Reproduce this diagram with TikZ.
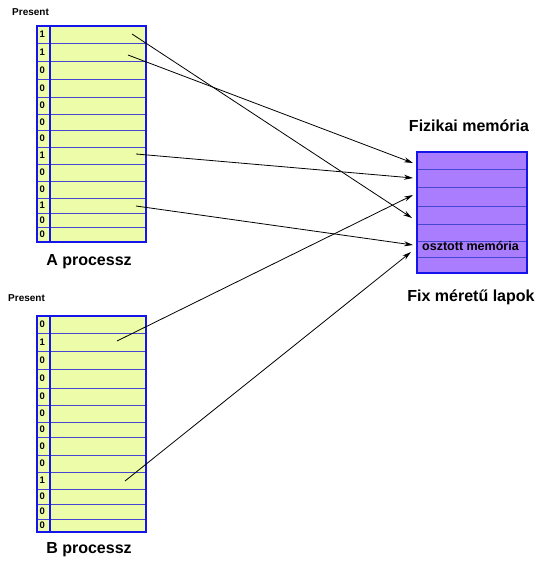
\documentclass[tikz,border=0pt]{standalone}
\usepackage{fontspec}
\setmainfont{Liberation Sans}
\usetikzlibrary{arrows.meta}
\definecolor{cellyellow}{RGB}{236,252,168}
\definecolor{mempurple}{RGB}{170,125,255}
\definecolor{tblblue}{RGB}{20,20,235}
\definecolor{rowblue}{RGB}{70,70,210}
\tikzset{
  bitcell/.style={draw=rowblue, line width=0.8pt, fill=cellyellow, inner sep=0pt, minimum width=13pt},
  datacell/.style={draw=rowblue, line width=0.8pt, fill=cellyellow, inner sep=0pt, minimum width=96pt},
  memcell/.style={draw=rowblue, line width=0.8pt, fill=mempurple, inner sep=0pt, minimum width=110pt},
  bittext/.style={font=\bfseries\fontsize{9.5}{10}\selectfont, inner sep=0pt, anchor=west},
  small/.style={font=\bfseries\fontsize{10}{11}\selectfont, inner sep=0pt},
  title/.style={font=\bfseries\fontsize{16}{18}\selectfont, inner sep=0pt},
  link/.style={-{Stealth[length=9pt,width=5pt]}, line width=0.8pt, black}
}
\begin{document}
\begin{tikzpicture}[x=1pt,y=-1pt]
\useasboundingbox (0,0) rectangle (542,561);
% ---- table A
\foreach \t/\b/\v [count=\i] in {26/43/1,43/61/1,61/79/0,79/97/0,97/114/0,114/130/0,130/147/0,147/164/1,164/181/0,181/198/0,198/213/1,213/227/0,227/242/0}{
  \pgfmathsetmacro{\c}{(\t+\b)/2}
  \pgfmathsetmacro{\h}{\b-\t}
  \node[bitcell, minimum height=\h pt] (abit\i) at (43.5,\c) {};
  \node[datacell, minimum height=\h pt] (arow\i) at (98,\c) {};
  \node[bittext] (abv\i) at (39.5,\c) {\v};
}
\draw[tblblue, line width=1.2pt] (37,26) rectangle (146,242);
\draw[tblblue, line width=1.2pt] (50,26) -- (50,242);
\node[small, anchor=west] (presa) at (12,12) {Present};
\node[title] (aname) at (89,262) {A processz};
% ---- table B
\foreach \t/\b/\v [count=\i] in {316/333/0,333/351/1,351/369/0,369/388/0,388/405/0,405/422/0,422/437/0,437/455/0,455/472/0,472/489/1,489/504/0,504/519/0,519/532/0}{
  \pgfmathsetmacro{\c}{(\t+\b)/2}
  \pgfmathsetmacro{\h}{\b-\t}
  \node[bitcell, minimum height=\h pt] (bbit\i) at (43.5,\c) {};
  \node[datacell, minimum height=\h pt] (brow\i) at (98,\c) {};
  \node[bittext] (bbv\i) at (39.5,\c) {\v};
}
\draw[tblblue, line width=1.2pt] (37,316) rectangle (146,532);
\draw[tblblue, line width=1.2pt] (50,316) -- (50,532);
\node[small, anchor=west] (presb) at (8,298) {Present};
\node[title] (bname) at (89,550) {B processz};
% ---- memory
\foreach \t/\b [count=\i] in {152/169,169/187,187/206,206/224,224/241,241/257,257/273}{
  \pgfmathsetmacro{\c}{(\t+\b)/2}
  \pgfmathsetmacro{\h}{\b-\t}
  \node[memcell, minimum height=\h pt] (m\i) at (472,\c) {};
}
\draw[tblblue, line width=1.2pt] (417,152) rectangle (527,273);
\node[font=\bfseries\fontsize{12.5}{13}\selectfont, inner sep=0pt, anchor=west] (shared) at (422,246) {osztott memória};
\node[title] (mtitle) at (469,126) {Fizikai memória};
\node[title] (mfoot) at (471,297) {Fix méretű lapok};
% ---- connector ends
\coordinate (sa1) at (132,34);
\coordinate (sa2) at (128,55);
\coordinate (sa8) at (136,154);
\coordinate (sa11) at (136,206);
\coordinate (sb2) at (117,341);
\coordinate (sb10) at (125,481);
\coordinate (e1) at (413,163);
\coordinate (e2) at (413,178);
\coordinate (e3) at (413,195);
\coordinate (e4) at (412,218);
\coordinate (e6a) at (413,245);
\coordinate (e6b) at (411,252);
\draw[link] (sa1) -- (e4);
\draw[link] (sa2) -- (e1);
\draw[link] (sa8) -- (e2);
\draw[link] (sa11) -- (e6a);
\draw[link] (sb2) -- (e3);
\draw[link] (sb10) -- (e6b);
\end{tikzpicture}
\end{document}
